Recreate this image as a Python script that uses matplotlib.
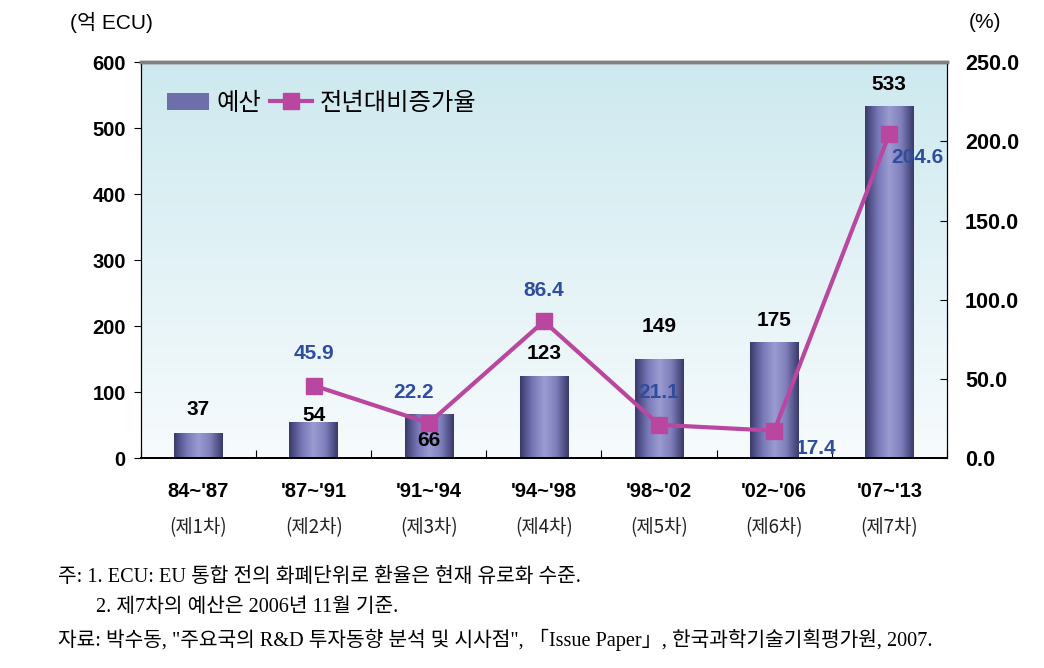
import numpy as np
import matplotlib.pyplot as plt
from matplotlib.colors import LinearSegmentedColormap
from matplotlib.lines import Line2D
from matplotlib.patches import Patch

periods = ["84~'87", "'87~'91", "'91~'94", "'94~'98", "'98~'02", "'02~'06", "'07~'13"]
phases = ["(제1차)", "(제2차)", "(제3차)", "(제4차)", "(제5차)", "(제6차)", "(제7차)"]
budget = [37, 54, 66, 123, 149, 175, 533]
growth = [45.9, 22.2, 86.4, 21.1, 17.4, 204.6]   # from '87~'91 onward
growth_idx = [1, 2, 3, 4, 5, 6]

# label offsets in pixels (dx, dy)
bar_off = [(0, 24), (0, 7), (0, -26), (0, 24), (0, 33), (0, 22), (0, 22)]
pct_off = [(0, 32), (-15, 31), (0, 31), (0, 32), (42, -18), (28, -23)]

sans = ['Liberation Sans', 'Noto Sans CJK KR']
kor = ['Noto Sans CJK KR', 'DejaVu Sans']
serif = ['Liberation Serif', 'Noto Sans CJK KR']

plt.rcParams['font.family'] = sans

fig = plt.figure(figsize=(10.44, 6.68), dpi=100)
ax = fig.add_axes([0.135, 0.314, 0.772, 0.593])
x = np.arange(len(periods))

# background gradient
bg = LinearSegmentedColormap.from_list('bg', ['#f7fbfd', '#cde9ef'])
ax.imshow(np.linspace(0, 1, 256).reshape(-1, 1), cmap=bg, origin='lower',
          extent=[-0.5, 6.5, 0, 600], aspect='auto', zorder=0)

# cylinder-like bars
barcm = LinearSegmentedColormap.from_list('bar', ['#3a3a6c', '#7676b6', '#9c9cd2', '#7e7ebb', '#3a3a6c'])
grad = np.linspace(0, 1, 64).reshape(1, -1)
w = 0.42
for xi, v in zip(x, budget):
    ax.imshow(grad, cmap=barcm, extent=[xi - w / 2, xi + w / 2, 0, v], aspect='auto', zorder=2)
ax.set_xlim(-0.5, 6.5)
ax.set_ylim(0, 600)

for xi, v, (dx, dy) in zip(x, budget, bar_off):
    ax.annotate(str(v), (xi, v), xytext=(dx, dy), textcoords='offset pixels',
                ha='center', va='center', fontsize=15, fontweight='bold', color='black', zorder=5)

ax2 = ax.twinx()
ax2.set_ylim(0, 250)
ax2.plot(growth_idx, growth, color='#b9479f', lw=3, marker='s', markersize=11, zorder=4)
for xi, v, (dx, dy) in zip(growth_idx, growth, pct_off):
    ax2.annotate(f"{v:.1f}", (xi, v), xytext=(dx, dy), textcoords='offset pixels',
                 ha='center', va='center', fontsize=15, fontweight='bold', color='#2f4d9e', zorder=6)

# axes styling
ax.set_yticks(range(0, 601, 100))
ax2.set_yticks(np.arange(0, 251, 50))
ax2.set_yticklabels([f"{t:.1f}" for t in np.arange(0, 251, 50)])
ax.set_xticks(np.arange(-0.5, 7, 1))
ax.set_xticklabels([])
ax.tick_params(axis='x', direction='in', length=6, color='black')
ax.tick_params(axis='y', direction='out', length=5, pad=6, labelsize=14.5)
ax2.tick_params(axis='y', direction='in', length=5, pad=13, labelsize=15.5)
for a in (ax, ax2):
    for lab in a.get_yticklabels():
        lab.set_fontweight('bold')
    a.spines['top'].set_color('#808080')
    a.spines['top'].set_linewidth(2.5)
    a.spines['left'].set_color('black')
    a.spines['right'].set_color('black')
    a.spines['bottom'].set_color('black')
    a.spines['bottom'].set_linewidth(1.3)

for xi, p, ph in zip(x, periods, phases):
    ax.annotate(p, (xi, 0), xytext=(0, -33), textcoords='offset pixels', ha='center', va='center',
                fontsize=14.5, fontweight='bold', annotation_clip=False)
    ax.annotate(ph, (xi, 0), xytext=(0, -69), textcoords='offset pixels', ha='center', va='center',
                fontsize=13.5, family=kor, color='#222222', annotation_clip=False)

fig.text(111 / 1044, 1 - 22 / 668, "(억 ECU)", ha='center', va='center', fontsize=15, family=sans)
fig.text(985 / 1044, 1 - 22 / 668, "(%)", ha='center', va='center', fontsize=15, family=sans)

handles = [Patch(facecolor='#6e6eab', edgecolor='none'),
           Line2D([], [], color='#b9479f', lw=3, marker='s', markersize=11)]
ax2.legend(handles, ["예산", "전년대비증가율"], loc='upper left', bbox_to_anchor=(0.005, 0.985),
           frameon=False, prop={'family': kor, 'size': 17.5}, handlelength=1.75, handletextpad=0.3,
           columnspacing=0.35, ncol=2)

notes = ["주: 1. ECU: EU 통합 전의 화폐단위로 환율은 현재 유로화 수준.",
         "2. 제7차의 예산은 2006년 11월 기준.",
         "자료: 박수동, \"주요국의 R&D 투자동향 분석 및 시사점\", 「Issue Paper」, 한국과학기술기획평가원, 2007."]
note_pos = [(58, 577), (96, 607), (58, 640)]
for t, (px, py) in zip(notes, note_pos):
    fig.text(px / 1044, 1 - py / 668, t, ha='left', va='center', fontsize=14.6, family=serif)

fig.savefig('out.png', dpi=100)
